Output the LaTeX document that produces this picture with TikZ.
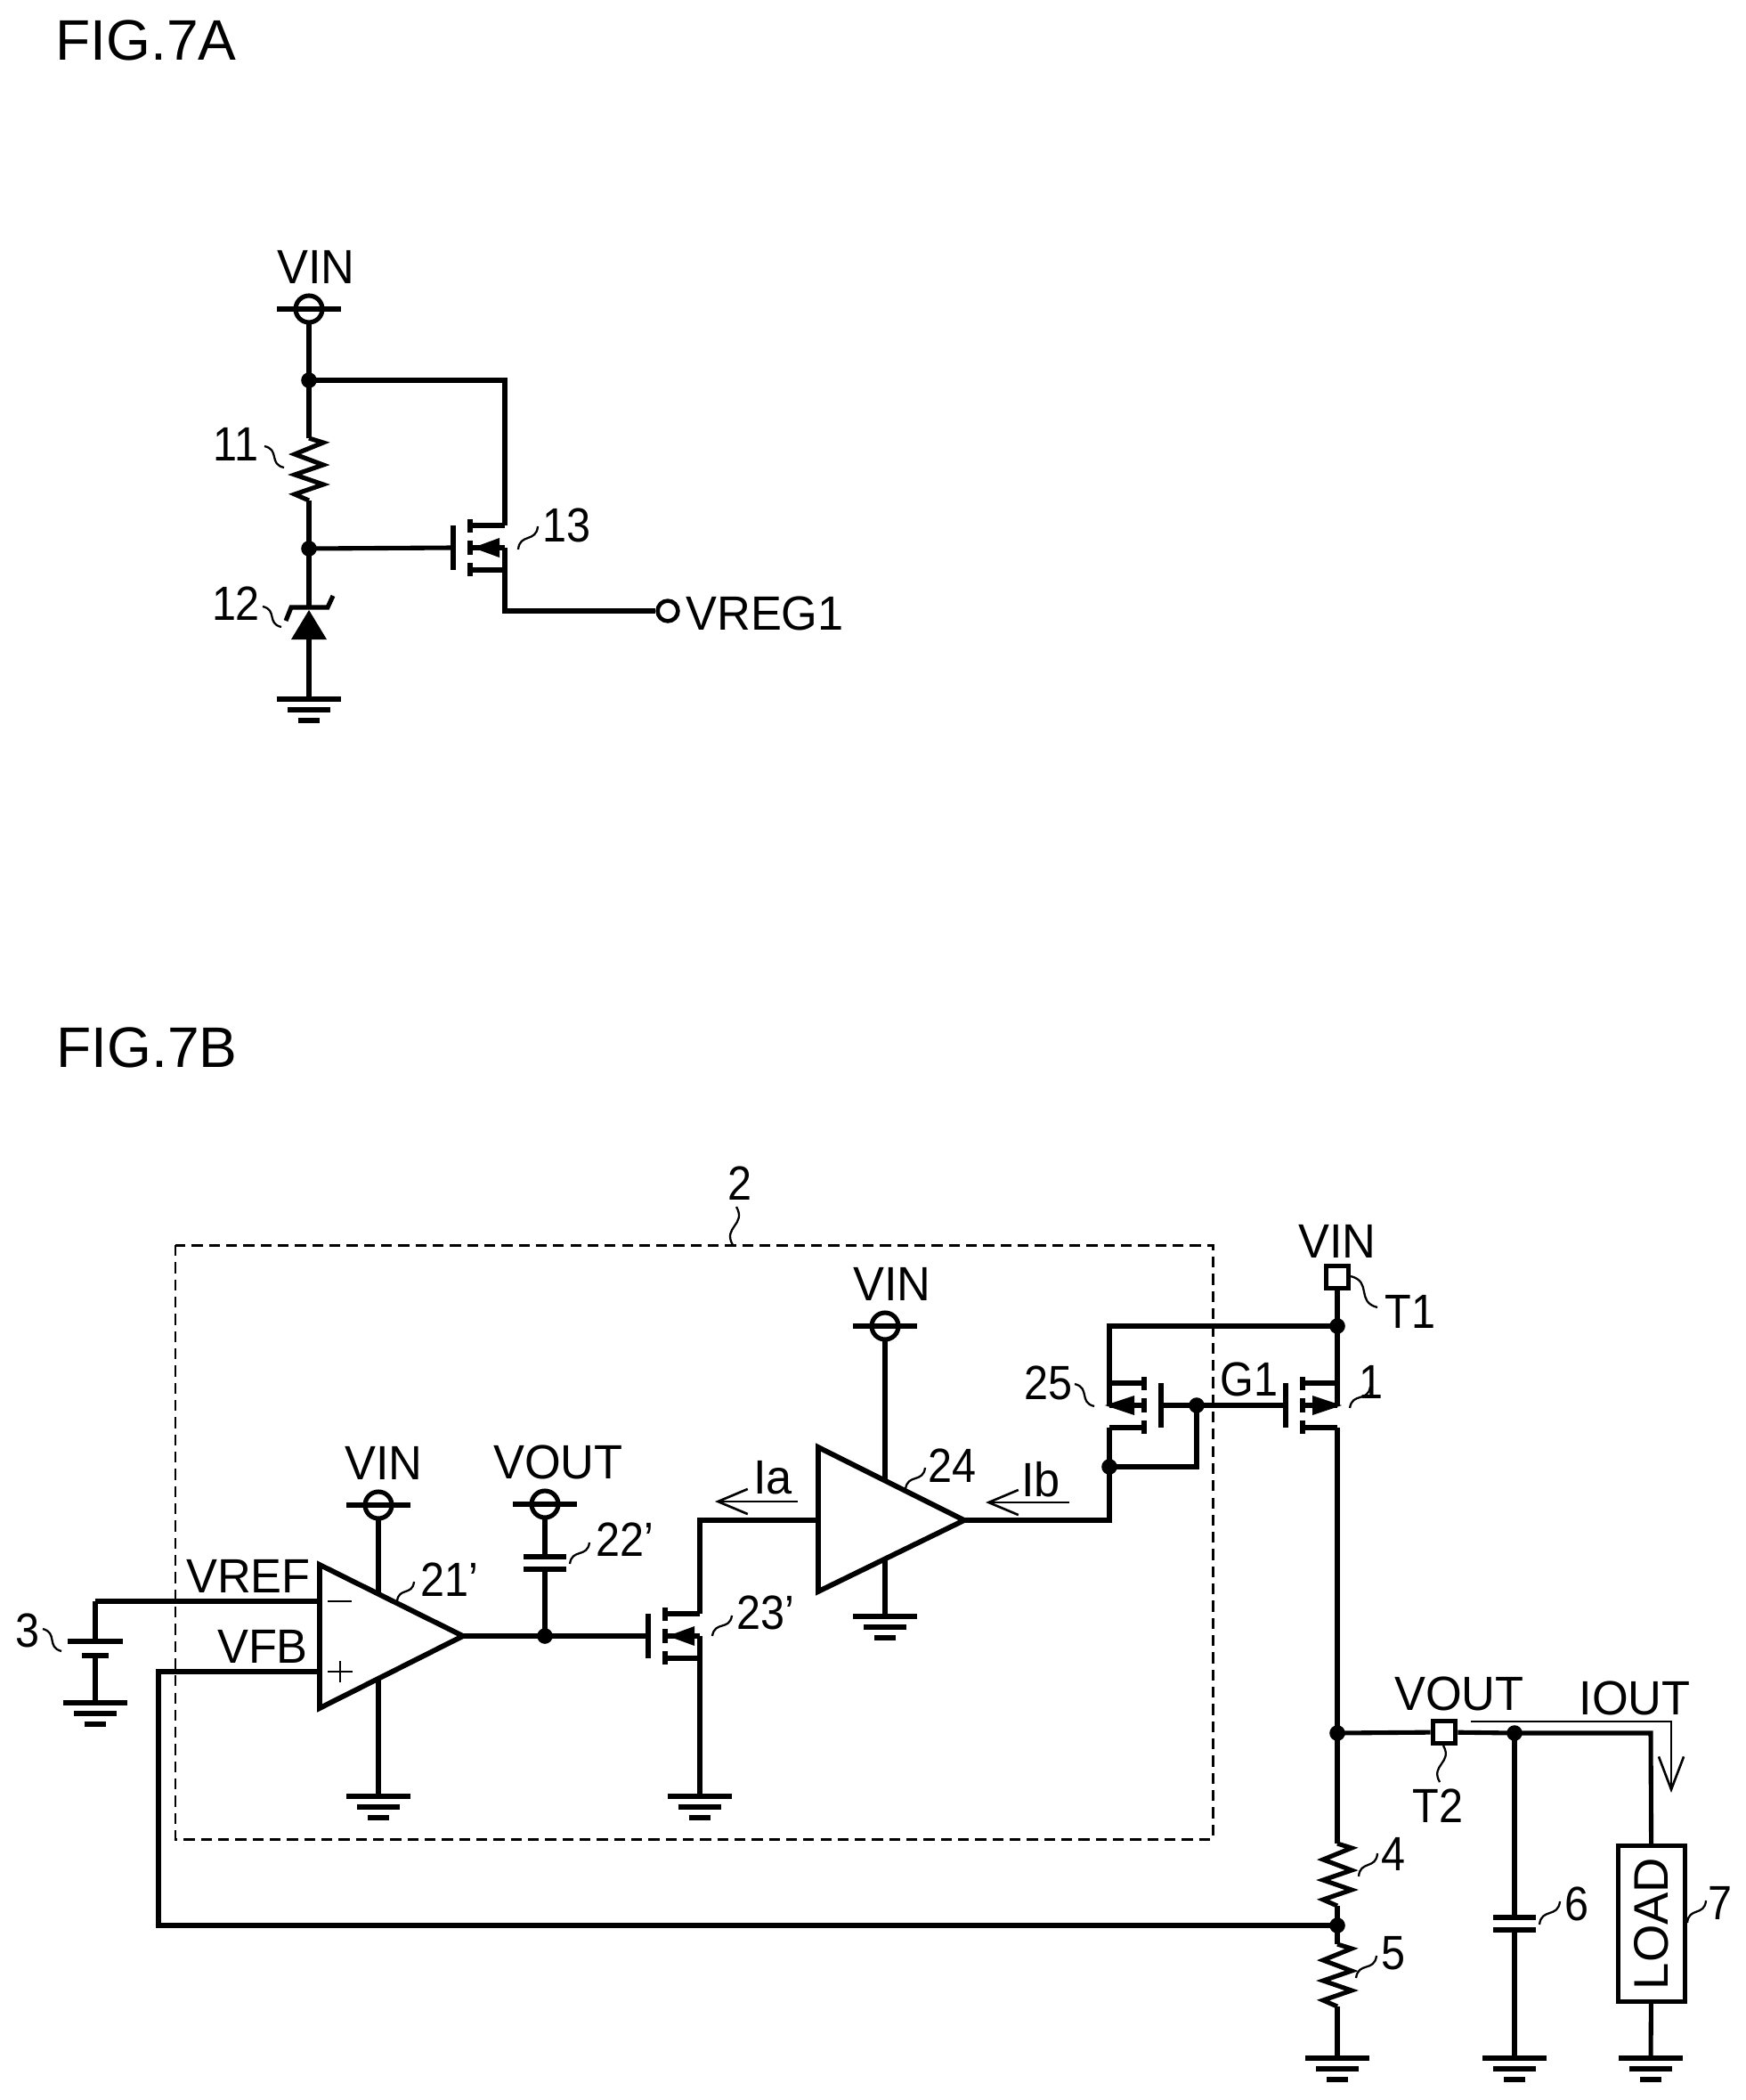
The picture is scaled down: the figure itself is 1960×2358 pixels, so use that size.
\documentclass[tikz,border=0pt]{standalone}
\usepackage{fontspec}
\setmainfont[FakeStretch=0.97]{Liberation Sans}
\newfontfamily\plainfont{Liberation Sans}
\newfontfamily\numfont[FakeStretch=0.9]{Liberation Sans}
\usetikzlibrary{calc,arrows.meta}
\newcommand{\mosbody}{
    \draw[heavy] (-19,-25) -- (-19,25);
    \draw[line width=3.6pt] (0,-32) -- (0,-17);
    \draw[line width=3.6pt] (0,-8) -- (0,8);
    \draw[line width=3.6pt] (0,17) -- (0,32);
    \draw[wire] (0,-25) -- (39,-25);
    \draw[wire] (0,25) -- (39,25);
    \draw[wire] (0,0) -- (39,0);
    \coordinate (-g) at (-19,0);
    \coordinate (-d) at (39,-25);
    \coordinate (-m) at (39,0);
    \coordinate (-s) at (39,25);
}
\tikzset{
  wire/.style={line width=2.9pt},
  heavy/.style={line width=3.3pt},
  thinwire/.style={line width=1.5pt},
  leader/.style={line width=1.3pt, to path={.. controls ($(\tikztostart)!.55!35:(\tikztotarget)$) and ($(\tikztotarget)!.55!35:(\tikztostart)$) .. (\tikztotarget)}},
  gnd/.pic={
    \draw[heavy] (-36,0) -- (36,0);
    \draw[heavy] (-24,12) -- (24,12);
    \draw[heavy] (-12,24) -- (12,24);
  },
  rail/.pic={
    \draw[wire] (0,0) circle [radius=15];
    \draw[wire] (-36,0) -- (36,0);
    \coordinate (-o) at (0,15);
  },
  res/.pic={
    \draw[wire] (0,-35) -- (16,-30) -- (-16,-17) -- (16,-5) -- (-16,6) -- (16,17) -- (-16,28) -- (0,35);
    \coordinate (-a) at (0,-35);
    \coordinate (-b) at (0,35);
  },
  capa/.pic={
    \draw[heavy] (-24,-7) -- (24,-7);
    \draw[heavy] (-24,7) -- (24,7);
    \coordinate (-a) at (0,-7);
    \coordinate (-b) at (0,7);
  },
  batt/.pic={
    \draw[heavy] (-31,-8) -- (31,-8);
    \draw[heavy] (-15,8) -- (15,8);
    \coordinate (-a) at (0,-8);
    \coordinate (-b) at (0,8);
  },
  zener/.pic={
    \fill (0,-15) -- (20,18) -- (-20,18) -- cycle;
    \draw[wire] (-26,-3) -- (-20,-18) -- (21,-18) -- (27,-31);
    \coordinate (-a) at (0,-18);
    \coordinate (-b) at (0,18);
  },
  mosin/.pic={
    \mosbody
    \fill (3,0) -- (33,-11) -- (33,11) -- cycle;
  },
  mosout/.pic={
    \mosbody
    \fill (44,0) -- (11,-11) -- (11,11) -- cycle;
  },
}

\begin{document}
\begin{tikzpicture}[x=.02cm,y=-.02cm]
    \tikzstyle{point}=[circle,fill,inner sep=0pt,minimum size=10pt]
    \tikzstyle{lab}=[inner sep=0pt,font=\fontsize{30.7}{32}\selectfont]
    \tikzstyle{numlab}=[inner sep=0pt,font=\numfont\fontsize{30.7}{32}\selectfont]
    \tikzstyle{figlab}=[inner sep=0pt,font=\plainfont\fontsize{36.5}{38}\selectfont]
    \tikzstyle{pad}=[draw,fill=white,line width=3pt,inner sep=0pt,minimum size=14.5pt]
    \tikzstyle{ring}=[circle,draw,line width=2.6pt,inner sep=0pt,minimum size=13pt]
    \useasboundingbox (0,0) rectangle (1960,2358);

    \node (figA)[figlab] at (164,45) {FIG.7A};
    \node (figB)[figlab] at (165,1176) {FIG.7B};

    % --- FIG.7A ---
    \node (vinAtxt)[lab] at (355,300) {VIN};
    \pic (railA) at (347,347) {rail};
    \node (jA1)[point] at (347,427) {};
    \node (jA2)[point] at (347,616) {};
    \pic (r11) at (347,527) {res};
    \pic (z12) at (347,700) {zener};
    \coordinate (gndA) at (347,785);
    \pic at (gndA) {gnd};
    \pic (m13) at (528,615) {mosin};
    \coordinate (cornA1) at (567,427);
    \coordinate (cornA2) at (567,686);
    \node (vreg)[ring] at (750,686) {};
    \node (vregtxt)[lab,anchor=west] at (770,689) {VREG1};
    \node (t11)[numlab] at (265,499) {11};
    \node (t12)[numlab] at (265,678) {12};
    \node (t13)[numlab] at (636,590) {13};

    \draw[wire] (railA-o) -- (jA1.center) -- (r11-a);
    \draw[wire] (r11-b) -- (jA2.center) -- (z12-a);
    \draw[wire] (z12-b) -- (gndA);
    \draw[wire] (jA1.center) -- (cornA1) -- (m13-d);
    \draw[wire] (jA2.center) -- (m13-g);
    \draw[wire] (m13-m) -- (cornA2) -- (vreg);

    % --- FIG.7B ---
    % Dashed block
    \coordinate (boxNW) at (197,1398);
    \coordinate (boxSE) at (1362,2065);
    \draw[line width=1.7pt,dash pattern=on 7pt off 4pt] (boxNW) rectangle (boxSE);
    \node (t2)[numlab] at (831,1329) {2};

    % Reference battery
    \pic (b3) at (107,1851) {batt};
    \coordinate (gndB) at (107,1912);
    \pic at (gndB) {gnd};
    \coordinate (cornB) at (107,1798);
    \node (t3)[numlab] at (31,1831) {3};

    % First amplifier
    \coordinate (amp1a) at (359,1757);
    \coordinate (amp1b) at (359,1918);
    \coordinate (amp1t) at (520,1837);
    \coordinate (amp1m) at (359,1798);
    \coordinate (amp1p) at (359,1877);
    \coordinate (amp1v) at (425,1790);
    \coordinate (amp1g) at (425,1885);
    \draw[heavy] (amp1a) -- (amp1t) -- (amp1b) -- cycle;
    \draw[thinwire] (368,1798) -- (395,1798);
    \draw[thinwire] (368,1877) -- (396,1877);
    \draw[thinwire] (382,1865) -- (382,1889);
    \node (vrefc)[lab] at (279,1770) {VREF};
    \node (vfbc)[lab] at (295,1849) {VFB};
    \node (vin1txt)[lab] at (431,1643) {VIN};
    \pic (rail1) at (425,1690) {rail};
    \coordinate (gnd1) at (425,2017);
    \pic at (gnd1) {gnd};
    \node (t21)[numlab] at (505,1774) {21’};

    % Capacitor and second stage
    \node (vout1txt)[lab] at (627,1642) {VOUT};
    \pic (rail2) at (612,1689) {rail};
    \pic (c22) at (612,1755) {capa};
    \node (jB1)[point] at (612,1837) {};
    \node (t22)[numlab] at (702,1729) {22’};
    \pic (m23) at (747,1837) {mosin};
    \coordinate (gnd2) at (786,2017);
    \pic at (gnd2) {gnd};
    \coordinate (corn23) at (786,1707);
    \node (t23)[numlab] at (860,1811) {23’};

    % Second amplifier
    \coordinate (amp2a) at (919,1625);
    \coordinate (amp2b) at (919,1787);
    \coordinate (amp2t) at (1083,1707);
    \coordinate (amp2i) at (919,1707);
    \coordinate (amp2v) at (994,1662);
    \coordinate (amp2g) at (994,1752);
    \draw[heavy] (amp2a) -- (amp2t) -- (amp2b) -- cycle;
    \node (vin2txt)[lab] at (1002,1442) {VIN};
    \pic (rail3) at (994,1489) {rail};
    \coordinate (gnd3) at (994,1815);
    \pic at (gnd3) {gnd};
    \node (t24)[numlab] at (1069,1646) {24};
    \node (ia)[lab] at (868,1659) {Ia};
    \node (ib)[lab] at (1169,1661) {Ib};
    \coordinate (iaS) at (896,1686);
    \coordinate (iaE) at (803,1686);
    \coordinate (ibS) at (1201,1687);
    \coordinate (ibE) at (1107,1687);
    \draw[thinwire,-{Straight Barb[length=19pt,width=16pt]}] (iaS) -- (iaE);
    \draw[thinwire,-{Straight Barb[length=19pt,width=16pt]}] (ibS) -- (ibE);

    % Transistors 25 and 1
    \pic[xscale=-1] (m25) at (1285,1578) {mosout};
    \pic (m1) at (1463,1578) {mosout};
    \node (jB2)[point] at (1344,1578) {};
    \node (jB3)[point] at (1246,1647) {};
    \coordinate (cornG) at (1344,1647);
    \coordinate (cornO) at (1246,1707);
    \coordinate (corn25) at (1246,1489);
    \node (jB4)[point] at (1502,1489) {};
    \node (T1)[pad] at (1502,1434) {};
    \node (vin4txt)[lab] at (1502,1394) {VIN};
    \node (tT1)[numlab] at (1584,1473) {T1};
    \node (g1)[numlab] at (1403,1549) {G1};
    \node (t25)[numlab] at (1177,1553) {25};
    \node (t1)[numlab] at (1540,1552) {1};

    % Output branch
    \node (jB5)[point] at (1502,1946) {};
    \node (T2)[pad] at (1622,1945) {};
    \node (jB6)[point] at (1701,1946) {};
    \node (jB7)[point] at (1502,2162) {};
    \pic (r4) at (1502,2105) {res};
    \pic (r5) at (1502,2218) {res};
    \coordinate (gnd4) at (1502,2311);
    \pic at (gnd4) {gnd};
    \pic (c6) at (1701,2160) {capa};
    \coordinate (gnd5) at (1701,2311);
    \pic at (gnd5) {gnd};
    \coordinate (cornL) at (1854,1946);
    \node (load)[draw,line width=3pt,rotate=90,minimum width=99.6pt,minimum height=42.7pt,inner sep=0pt,font=\plainfont\fontsize{31}{32}\selectfont] at (1855,2160) {LOAD};
    \coordinate (gnd6) at (1854,2311);
    \pic at (gnd6) {gnd};
    \node (vout2txt)[lab] at (1639,1902) {VOUT};
    \node (iout)[lab] at (1836,1907) {IOUT};
    \node (tT2)[numlab] at (1615,2028) {T2};
    \node (t4)[numlab] at (1565,2082) {4};
    \node (t5)[numlab] at (1565,2193) {5};
    \node (t6)[numlab] at (1771,2138) {6};
    \node (t7)[numlab] at (1932,2137) {7};
    \coordinate (ioutS) at (1652,1933);
    \coordinate (ioutC) at (1877,1933);
    \coordinate (ioutE) at (1877,2013);
    \draw[thinwire,-{Straight Barb[length=21pt,width=16pt]}] (ioutS) -- (ioutC) -- (ioutE);

    % Feedback corners
    \coordinate (cornF1) at (178,1877);
    \coordinate (cornF2) at (178,2162);

    % Connections
    \draw[wire] (cornB) -- (amp1m);
    \draw[wire] (b3-a) -- (cornB);
    \draw[wire] (b3-b) -- (gndB);
    \draw[wire] (jB7.center) -- (cornF2) -- (cornF1) -- (amp1p);
    \draw[wire] (rail1-o) -- (amp1v);
    \draw[wire] (amp1g) -- (gnd1);
    \draw[wire] (amp1t) -- (jB1.center) -- (m23-g);
    \draw[wire] (rail2-o) -- (c22-a);
    \draw[wire] (c22-b) -- (jB1.center);
    \draw[wire] (m23-m) -- (m23-s) -- (gnd2);
    \draw[wire] (m23-d) -- (corn23) -- (amp2i);
    \draw[wire] (rail3-o) -- (amp2v);
    \draw[wire] (amp2g) -- (gnd3);
    \draw[wire] (amp2t) -- (cornO) -- (jB3.center) -- (m25-s);
    \draw[wire] (m25-m) -- (corn25) -- (jB4.center);
    \draw[wire] (jB3.center) -- (cornG) -- (jB2.center) -- (m25-g);
    \draw[wire] (jB2.center) -- (m1-g);
    \draw[wire] (T1) -- (jB4.center) -- (m1-m);
    \draw[wire] (m1-s) -- (jB5.center) -- (r4-a);
    \draw[wire] (r4-b) -- (jB7.center) -- (r5-a);
    \draw[wire] (r5-b) -- (gnd4);
    \draw[wire] (jB5.center) -- (T2);
    \draw[wire] (T2) -- (jB6.center) -- (cornL) -- (load);
    \draw[wire] (load) -- (gnd6);
    \draw[wire] (jB6.center) -- (c6-a);
    \draw[wire] (c6-b) -- (gnd5);

    % Reference leaders
    \foreach \n/\ax/\ay/\bx/\by in {
        11/297/501/319/525, 12/295/681/316/704, 13/604/591/582/617,
        2/827/1355/823/1398, 3/48/1829/69/1854, 21/465/1776/446/1798,
        22/662/1732/640/1756, 23/822/1814/800/1837, 24/1039/1648/1017/1672,
        25/1207/1554/1229/1579, 1/1539/1557/1516/1581, T1/1517/1433/1547/1468,
        T2/1621/1960/1617/2001, 4/1547/2081/1526/2107, 5/1546/2196/1523/2221,
        6/1752/2135/1729/2161, 7/1916/2134/1895/2159} {
        \coordinate (lead\n a) at (\ax,\ay);
        \coordinate (lead\n b) at (\bx,\by);
        \draw[leader] (lead\n a) to (lead\n b);
    }
\end{tikzpicture}
\end{document}
